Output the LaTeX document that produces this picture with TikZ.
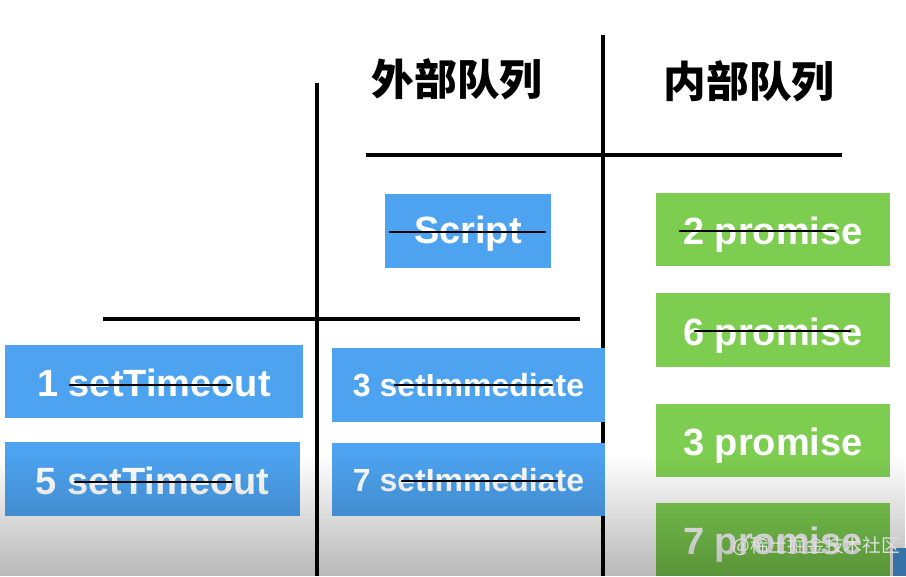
\documentclass[tikz,border=0pt]{standalone}
\usepackage{fontspec}
\setmainfont{Liberation Sans}
\newfontfamily\cjk{Noto Sans CJK SC}
\usetikzlibrary{fadings}
\definecolor{qblue}{RGB}{77,163,240}
\definecolor{qgreen}{RGB}{125,205,80}
\tikzset{
  rule/.style={line width=2.3pt, black},
  strike/.style={line width=2.2pt, black, line cap=round},
  qbox/.style={text=white, inner sep=0pt, font=\bfseries\fontsize{28.5}{30}\selectfont, text height=22.6pt, text depth=0pt},
  bluebox/.style={qbox, fill=qblue},
  greenbox/.style={qbox, fill=qgreen},
  smalltext/.style={font=\bfseries\fontsize{24}{26}\selectfont, text height=17.5pt},
  head/.style={font=\cjk\bfseries\fontsize{32}{34}\selectfont, text=black},
}
\begin{document}
\begin{tikzpicture}[x=0.75pt,y=-0.75pt]
\useasboundingbox (0,0) rectangle (906,576);
\clip (0,0) rectangle (906,576);
\fill[white] (0,0) rectangle (906,576);
% rules
\coordinate (v1t) at (317,83);  \coordinate (v1b) at (317,576);
\coordinate (v2t) at (603,35);  \coordinate (v2b) at (603,576);
\coordinate (h1l) at (366,155); \coordinate (h1r) at (842,155);
\coordinate (h2l) at (103,319); \coordinate (h2r) at (580,319);
\draw[rule] (v1t) -- (v1b);
\draw[rule] (v2t) -- (v2b);
\draw[rule] (h1l) -- (h1r);
\draw[rule] (h2l) -- (h2r);
% headers
\node[head] (hout) at (457,79) {外部队列};
\node[head] (hin) at (749,81) {内部队列};
% boxes
\node[bluebox, minimum width=166*0.75pt, minimum height=74*0.75pt, text height=18.5pt] (script) at (468,231) {Script};
\node[greenbox, minimum width=234*0.75pt, minimum height=73*0.75pt] (p2) at (773,229.5) {2 promise};
\node[greenbox, minimum width=234*0.75pt, minimum height=74*0.75pt] (p6) at (773,330) {6 promise};
\node[greenbox, minimum width=234*0.75pt, minimum height=73*0.75pt] (p3) at (773,440.5) {3 promise};
\node[greenbox, minimum width=234*0.75pt, minimum height=73*0.75pt] (p7) at (773,539.5) {7 promise};
\node[bluebox, minimum width=298*0.75pt, minimum height=73*0.75pt] (t1) at (154,381.5) {1 setTimeout};
\node[bluebox, minimum width=295*0.75pt, minimum height=74*0.75pt] (t5) at (152.5,479) {5 setTimeout};
\node[bluebox, smalltext, minimum width=273*0.75pt, minimum height=74*0.75pt] (i3) at (468.5,385) {3 setImmediate};
\node[bluebox, smalltext, minimum width=273*0.75pt, minimum height=73*0.75pt] (i7) at (468.5,479.5) {7 setImmediate};
% strike-throughs
\draw[strike] (390,232) -- (545,232);
\draw[strike] (680,231) -- (835,231);
\draw[strike] (695,331) -- (850,331);
\draw[strike] (70,385) -- (230,385);
\draw[strike] (75,482) -- (232,482);
\draw[strike] (395,385) -- (552,385);
\draw[strike] (402,481) -- (557,481);
% bottom shade
\fill[black, opacity=0.28, path fading=north] (0,455) rectangle (906,576);
\fill[qblue!70!black] (893,548) rectangle (906,576);
% watermark
\node[font=\cjk\fontsize{14}{16}\selectfont, text=white!88!black, anchor=west] (wm) at (728,546) {@稀土掘金技术社区};
\end{tikzpicture}
\end{document}
